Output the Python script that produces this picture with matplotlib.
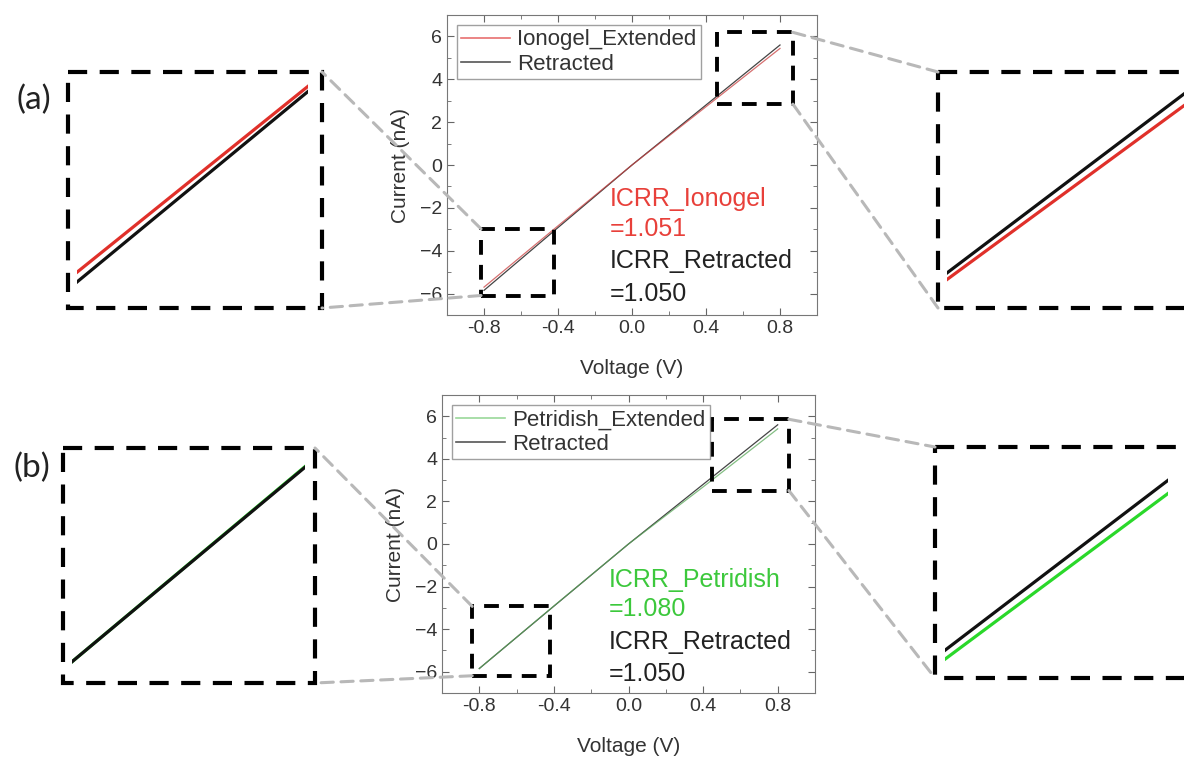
import matplotlib
matplotlib.use('Agg')
import matplotlib.pyplot as plt
from matplotlib.patches import Rectangle, ConnectionPatch
from matplotlib.ticker import MultipleLocator

plt.rcParams['font.family'] = ['Liberation Sans', 'DejaVu Sans']

# I-V data (V, nA)
voltage = [-0.8, -0.4, 0.0, 0.4, 0.8]
retracted = [-5.85, -2.92, 0.0, 2.80, 5.60]
ionogel_ext = [-5.70, -2.84, 0.0, 2.72, 5.44]
petridish_ext = [-5.85, -2.91, 0.0, 2.68, 5.41]

labels_a = ['Ionogel_Extended', 'Retracted']
labels_b = ['Petridish_Extended', 'Retracted']
icrr_a = ['ICRR_Ionogel', '=1.051', 'ICRR_Retracted', '=1.050']
icrr_b = ['ICRR_Petridish', '=1.080', 'ICRR_Retracted', '=1.050']

W, H = 1184, 759
fig = plt.figure(figsize=(W / 100, H / 100), dpi=100)


def px(x0, x1, y0, y1):
    return [x0 / W, 1 - y1 / H, (x1 - x0) / W, (y1 - y0) / H]


over = fig.add_axes([0, 0, 1, 1], zorder=20)
over.set_xlim(0, W)
over.set_ylim(H, 0)
over.axis('off')
over.patch.set_alpha(0)

rows = [
    dict(ext=ionogel_ext, col='#e0302a', main_col='#c84040', leg_col='#e87070',
         txt_col='#e8403a', labels=labels_a, icrr=icrr_a, tag='(a)', tag_xy=(34, 100),
         main=(447, 817, 15, 315), txt_x=-0.12, txt_y=[-1.6, -3.0, -4.5, -6.0],
         box_lo=(-0.816, -0.423, -6.09, -2.98), box_hi=(0.461, 0.870, 2.84, 6.19),
         in_lo=(77, 308, 72, 308), in_lo_ylim=(-6.25, -2.62), frame_lo=(68, 322, 72, 308),
         in_hi=(947, 1184, 72, 308), in_hi_ylim=(2.67, 5.90), frame_hi=(938, 1200, 72, 308)),
    dict(ext=petridish_ext, col='#2ad82a', main_col='#5aa85a', leg_col='#9ad89a',
         txt_col='#3cc83c', labels=labels_b, icrr=icrr_b, tag='(b)', tag_xy=(32, 468),
         main=(442, 815, 395, 693), txt_x=-0.105, txt_y=[-1.67, -3.07, -4.6, -6.09],
         box_lo=(-0.838, -0.423, -6.19, -2.93), box_hi=(0.45, 0.86, 2.51, 5.86),
         in_lo=(72, 305, 448, 683), in_lo_ylim=(-6.17, -2.63), frame_lo=(63, 315, 448, 683),
         in_hi=(945, 1168, 447, 678), in_hi_ylim=(2.75, 6.08), frame_hi=(935, 1200, 447, 678)),
]

grey = '#b8b8b8'
for r in rows:
    ax = fig.add_axes(px(*r['main']))
    ax.plot(voltage, retracted, color='#444444', lw=0.9)
    ax.plot(voltage, r['ext'], color=r['main_col'], lw=0.9, alpha=0.75)
    ax.set_xlim(-1, 1)
    ax.set_ylim(-7, 7)
    ax.xaxis.set_major_locator(MultipleLocator(0.4))
    ax.xaxis.set_minor_locator(MultipleLocator(0.2))
    ax.yaxis.set_major_locator(MultipleLocator(2))
    ax.yaxis.set_minor_locator(MultipleLocator(1))
    ax.set_xticks([-0.8, -0.4, 0.0, 0.4, 0.8])
    ax.set_xticklabels(['-0.8', '-0.4', '0.0', '0.4', '0.8'])
    ax.tick_params(which='both', direction='in', top=True, right=True,
                   colors='#666666', labelcolor='#333333', labelsize=14)
    ax.tick_params(which='major', length=5)
    ax.tick_params(which='minor', length=3)
    for s in ax.spines.values():
        s.set_color('#777777')
    ax.set_xlabel('Voltage (V)', fontsize=15, color='#333333', labelpad=16)
    ax.set_ylabel('Current (nA)', fontsize=15, color='#333333', labelpad=7)

    h1, = ax.plot([], [], color=r['leg_col'], lw=1.2)
    h2, = ax.plot([], [], color='#555555', lw=1.2)
    leg = ax.legend([h1, h2], r['labels'], loc='upper left', fontsize=16,
                    fancybox=False, edgecolor='#888888', handlelength=2.2,
                    handletextpad=0.3, labelspacing=0.15, borderpad=0.2,
                    borderaxespad=0.45)
    for t in leg.get_texts():
        t.set_color('#333333')

    tcols = [r['txt_col'], r['txt_col'], '#222222', '#222222']
    for s, yy, c in zip(r['icrr'], r['txt_y'], tcols):
        ax.text(r['txt_x'], yy, s, color=c, fontsize=18, va='center', ha='left')

    # zoom boxes in the main plot
    for (x0, x1, y0, y1) in (r['box_lo'], r['box_hi']):
        ax.add_patch(Rectangle((x0, y0), x1 - x0, y1 - y0, fill=False, ec='black',
                               lw=2.8, ls=(0, (3.8, 2.6)), zorder=5, clip_on=False))

    # zoomed insets
    for key, lim, xl in (('in_lo', 'in_lo_ylim', (-0.8, -0.4)),
                         ('in_hi', 'in_hi_ylim', (0.45, 0.8))):
        ia = fig.add_axes(px(*r[key]))
        ia.plot(voltage, r['ext'], color=r['col'], lw=2.3)
        ia.plot(voltage, retracted, color='#111111', lw=2.3)
        ia.set_xlim(*xl)
        ia.set_ylim(*r[lim])
        ia.axis('off')

    for fk in ('frame_lo', 'frame_hi'):
        x0, x1, y0, y1 = r[fk]
        over.add_patch(Rectangle((x0, y0), x1 - x0, y1 - y0, fill=False, ec='black',
                                 lw=3, ls=(0, (4.6, 3.0)), clip_on=False))

    # connector lines
    bx0, bx1, by0, by1 = r['box_lo']
    fx0, fx1, fy0, fy1 = r['frame_lo']
    for (xa, ya), (xb, yb) in (((bx0, by1), (fx1, fy0)), ((bx0, by0), (fx1, fy1))):
        over.add_artist(ConnectionPatch((xa, ya), (xb, yb), coordsA=ax.transData,
                                        coordsB=over.transData, color=grey, lw=2.2,
                                        ls=(0, (4, 2.5)), zorder=1))
    bx0, bx1, by0, by1 = r['box_hi']
    fx0, fx1, fy0, fy1 = r['frame_hi']
    for (xa, ya), (xb, yb) in (((bx1, by1), (fx0, fy0)), ((bx1, by0), (fx0, fy1))):
        over.add_artist(ConnectionPatch((xa, ya), (xb, yb), coordsA=ax.transData,
                                        coordsB=over.transData, color=grey, lw=2.2,
                                        ls=(0, (4, 2.5)), zorder=1))

    over.text(r['tag_xy'][0], r['tag_xy'][1], r['tag'], fontsize=24, family='Lato',
              ha='center', va='center', color='#222222')

fig.savefig('out.png', dpi=100)
